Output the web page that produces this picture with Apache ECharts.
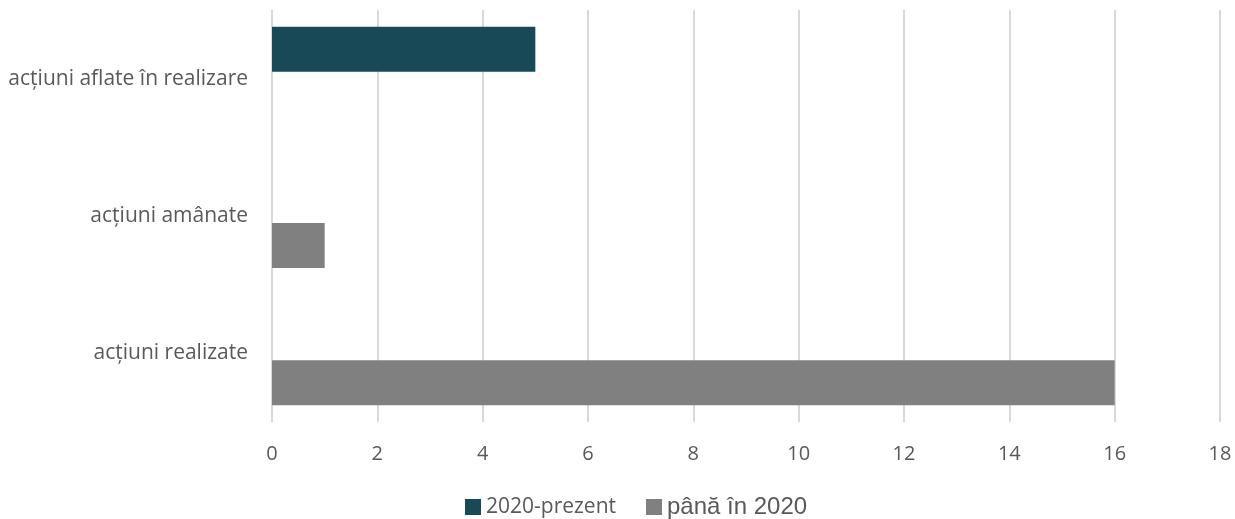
<!DOCTYPE html>
<html>
<head>
<meta charset="utf-8">
<script src="https://cdn.jsdelivr.net/npm/echarts@6/dist/echarts.min.js"></script>
<style>
html,body{margin:0;padding:0;background:#fff;}
#chart{width:1235px;height:519px;}
</style>
</head>
<body>
<div id="chart"></div>
<script>
var categories = ['acțiuni realizate', 'acțiuni amânate', 'acțiuni aflate în realizare'];
var seriesNames = ['2020-prezent', 'până în 2020'];
var prezent = [0, 0, 5];
var panaIn2020 = [16, 1, 0];
var xTicks = { min: 0, max: 18, interval: 2 };

var myChart = echarts.init(document.getElementById('chart'));
var option = {
	animation: false,
	color: ['#174a56', '#808080'],
	grid: {
		left: 272,
		right: 15,
		top: 10,
		bottom: 97
	},
	legend: {
		bottom: -5,
		left: 460,
		itemWidth: 16,
		itemHeight: 16,
		itemGap: 30,
		icon: 'rect',
		data: [
			{ name: seriesNames[0], textStyle: { fontFamily: 'Open Sans', fontSize: 21, color: '#595959' } },
			{ name: seriesNames[1], textStyle: { fontFamily: 'Liberation Sans', fontSize: 24, color: '#595959' } }
		]
	},
	xAxis: {
		type: 'value',
		min: xTicks.min,
		max: xTicks.max,
		interval: xTicks.interval,
		axisLine: { show: false },
		axisTick: { show: false },
		splitLine: { lineStyle: { color: '#d9d9d9', width: 2 } },
		axisLabel: { color: '#595959', fontSize: 20, fontFamily: 'Open Sans', margin: 22 }
	},
	yAxis: {
		type: 'category',
		data: categories,
		axisLine: { show: false },
		axisTick: { show: false },
		axisLabel: { color: '#595959', fontSize: 21, fontFamily: 'Open Sans', margin: 24 }
	},
	series: [
		{
			name: seriesNames[0],
			type: 'bar',
			barWidth: 45,
			barGap: '31%',
			data: prezent
		},
		{
			name: seriesNames[1],
			type: 'bar',
			barWidth: 45,
			barGap: '31%',
			data: panaIn2020
		}
	]
};
myChart.setOption(option);
</script>
</body>
</html>
